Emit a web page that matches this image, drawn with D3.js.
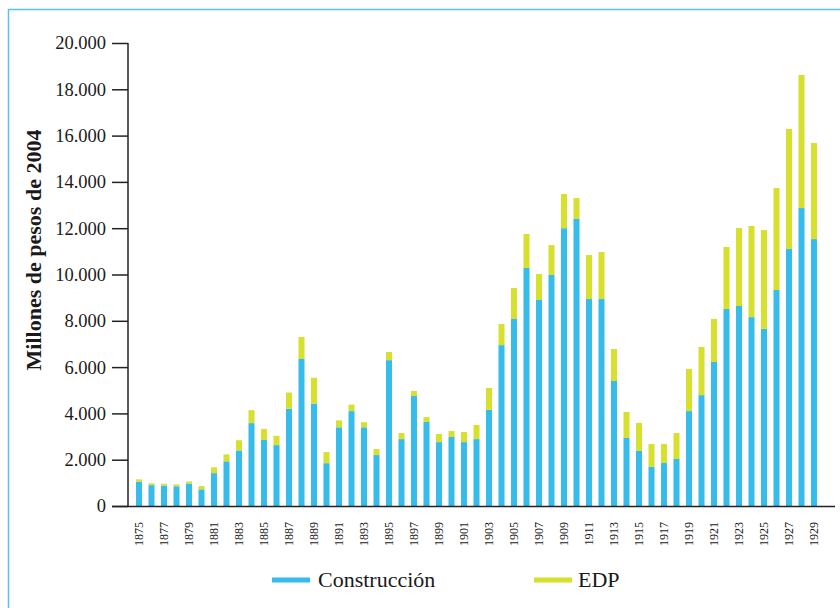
<!DOCTYPE html>
<html>
<head>
<meta charset="utf-8">
<script src="https://cdn.jsdelivr.net/npm/d3@7"></script>
<style>
  html, body { margin: 0; padding: 0; background: #fff; }
  svg { display: block; }
  text { font-family: "Liberation Serif", "Times New Roman", serif; fill: #1a1a1a; }
</style>
</head>
<body>
<script>
const years = d3.range(1875, 1930);
const construccion = [
  1050, 900, 880, 850, 970, 720, 1420, 1930, 2400, 3580,
  2850, 2630, 4200, 6350, 4420, 1850, 3400, 4100, 3400, 2200,
  6300, 2890, 4750, 3630, 2760, 2980, 2760, 2890, 4150, 6950,
  8080, 10280, 8900, 9980, 12000, 12400, 8940, 8940, 5400, 2940,
  2380, 1690, 1860, 2030, 4100, 4790, 6220, 8510, 8640, 8160,
  7650, 9330, 11100, 12870, 11530
];
const edp = [
  100, 80, 80, 80, 90, 140, 250, 300, 440, 560,
  480, 400, 700, 950, 1120, 480, 300, 280, 220, 260,
  350, 260, 220, 210, 350, 260, 440, 610, 950, 910,
  1340, 1470, 1120, 1290, 1480, 900, 1900, 2030, 1380, 1120,
  1210, 990, 820, 1120, 1820, 2080, 1860, 2680, 3370, 3940,
  4270, 4410, 5190, 5750, 4150
];
const yTicks = [0, 2000, 4000, 6000, 8000, 10000, 12000, 14000, 16000, 18000, 20000];
const seriesNames = ["Construcción", "EDP"];
const colors = ["#35BCEB", "#D6E02D"];

const W = 840, H = 608;
const svg = d3.select("body").append("svg").attr("width", W).attr("height", H);

// frame
svg.append("rect").attr("x", 8.5).attr("y", 9.5).attr("width", 840).attr("height", 640)
  .attr("fill", "none").attr("stroke", "#5BC0EB").attr("stroke-width", 1.5);

const x = d3.scaleBand().domain(years).range([132.75, 820.25]).paddingInner(0.52).paddingOuter(0.26);
const y = d3.scaleLinear().domain([0, 20000]).range([506, 43]);

const data = years.map((yr, i) => ({ year: yr, Construcción: construccion[i], EDP: edp[i] }));
const stack = d3.stack().keys(seriesNames)(data);

svg.append("g").selectAll("g").data(stack).join("g")
  .attr("fill", (d, i) => colors[i])
  .selectAll("rect").data(d => d).join("rect")
  .attr("x", d => x(d.data.year))
  .attr("width", x.bandwidth())
  .attr("y", d => y(d[1]))
  .attr("height", d => y(d[0]) - y(d[1]));

// y axis
const fmt = d3.formatLocale({ decimal: ",", thousands: ".", grouping: [3], currency: ["", ""] }).format(",");
const yAxis = svg.append("g").attr("transform", "translate(128,0)")
  .call(d3.axisLeft(y).tickValues(yTicks).tickSize(16).tickPadding(6).tickFormat(fmt));
yAxis.select(".domain").attr("stroke", "#222").attr("stroke-width", 1.5).attr("d", "M0," + y(20000) + "V" + y(0));
yAxis.selectAll(".tick line").attr("stroke", "#222").attr("stroke-width", 1.5);
yAxis.selectAll(".tick text").style("font-family", "Liberation Serif, serif").style("font-size", "18.5px").attr("fill", "#1a1a1a");

// x axis line
svg.append("line").attr("x1", 112).attr("x2", 835).attr("y1", 506.5).attr("y2", 506.5)
  .attr("stroke", "#222").attr("stroke-width", 1.5);

const xAxis = svg.append("g").attr("transform", "translate(0,506)")
  .call(d3.axisBottom(x).tickValues(years.filter(v => v % 2 === 1)).tickSize(0).tickPadding(0));
xAxis.select(".domain").remove();
xAxis.selectAll(".tick text")
  .style("font-family", "Liberation Serif, serif").style("font-size", "12px").attr("fill", "#1a1a1a")
  .attr("text-anchor", "end").attr("transform", "translate(0,16) rotate(-90)")
  .attr("x", 0).attr("y", 0).attr("dy", "0.35em");

// y title
svg.append("text").attr("transform", "translate(41,250) rotate(-90)")
  .attr("text-anchor", "middle").style("font-size", "22px").style("font-weight", "bold")
  .text("Millones de pesos de 2004");

// legend
const leg = [{ x: 272, tx: 318 }, { x: 534, tx: 578 }];
seriesNames.forEach((name, i) => {
  svg.append("line").attr("x1", leg[i].x).attr("x2", leg[i].x + 38).attr("y1", 580).attr("y2", 580)
    .attr("stroke", colors[i]).attr("stroke-width", 5);
  svg.append("text").attr("x", leg[i].tx).attr("y", 587).style("font-size", "22px").text(name);
});
</script>
</body>
</html>
